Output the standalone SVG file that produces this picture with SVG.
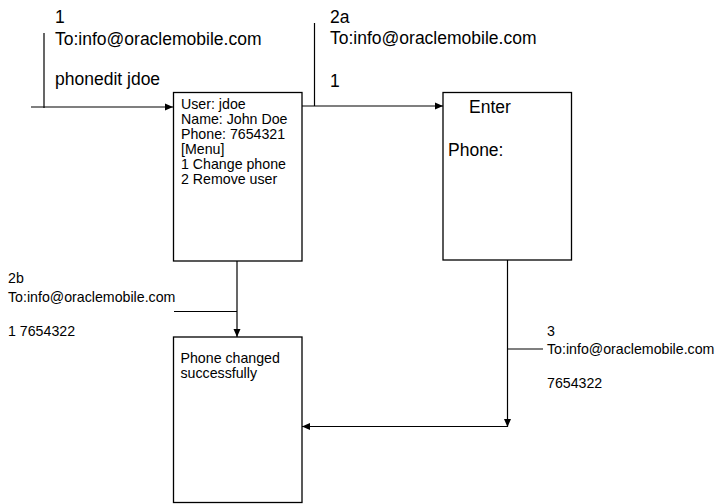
<svg xmlns="http://www.w3.org/2000/svg" width="715" height="504" viewBox="0 0 715 504">
<style>
.box{fill:#fff;stroke:#000;stroke-width:1.3}
.ln{fill:none;stroke:#000;stroke-width:1.2}
.big{font-family:"Liberation Sans",Arial,sans-serif;font-size:17.5px;fill:#000}
.sm{font-family:"Liberation Sans",Arial,sans-serif;font-size:14.2px;fill:#000}
</style>
<defs>
<marker id="ah" viewBox="0 0 8 8" refX="8" refY="4" markerWidth="8" markerHeight="8" markerUnits="userSpaceOnUse" orient="auto">
<path d="M0,0.5 L8,4 L0,7.5 Z" fill="#000"/>
</marker>
</defs>
<rect width="715" height="504" fill="#fff"/>
<g id="connectors">
<path class="ln" d="M31,107 H173" marker-end="url(#ah)"/>
<path class="ln" d="M44,33 V108"/>
<path class="ln" d="M302,106 H443" marker-end="url(#ah)"/>
<path class="ln" d="M314.5,23 V106"/>
<path class="ln" d="M237,261 V337" marker-end="url(#ah)"/>
<path class="ln" d="M174,311.5 H237"/>
<path class="ln" d="M507.5,260 V427" marker-end="url(#ah)"/>
<path class="ln" d="M507.5,426.5 H302" marker-end="url(#ah)"/>
<path class="ln" d="M507.5,349 H543"/>
</g>
<g id="label1">
<text class="big" x="55" y="23">1</text>
<text class="big" x="55" y="45">To:info@oraclemobile.com</text>
<text class="big" x="55" y="85">phonedit jdoe</text>
</g>
<g id="label2a">
<text class="big" x="330" y="23">2a</text>
<text class="big" x="330" y="44">To:info@oraclemobile.com</text>
<text class="big" x="330" y="87">1</text>
</g>
<g id="label2b">
<text class="sm" x="8" y="283">2b</text>
<text class="sm" x="8" y="301.5">To:info@oraclemobile.com</text>
<text class="sm" x="8" y="336">1 7654322</text>
</g>
<g id="label3">
<text class="sm" x="547" y="336">3</text>
<text class="sm" x="547" y="353.5">To:info@oraclemobile.com</text>
<text class="sm" x="547" y="388">7654322</text>
</g>
<g id="node-user">
<rect class="box" x="173.5" y="92.5" width="128.5" height="168.5"/>
<text class="sm" x="181" y="109">User: jdoe</text>
<text class="sm" x="181" y="124">Name: John Doe</text>
<text class="sm" x="181" y="139">Phone: 7654321</text>
<text class="sm" x="181" y="154">[Menu]</text>
<text class="sm" x="181" y="169">1 Change phone</text>
<text class="sm" x="181" y="184">2 Remove user</text>
</g>
<g id="node-enter">
<rect class="box" x="443" y="92.5" width="128.5" height="167.5"/>
<text class="big" x="469" y="112.5">Enter</text>
<text class="big" x="448" y="156">Phone:</text>
</g>
<g id="node-changed">
<rect class="box" x="173.5" y="337" width="128.5" height="165.5"/>
<text class="sm" x="180.5" y="363">Phone changed</text>
<text class="sm" x="180.5" y="378">successfully</text>
</g>
</svg>
